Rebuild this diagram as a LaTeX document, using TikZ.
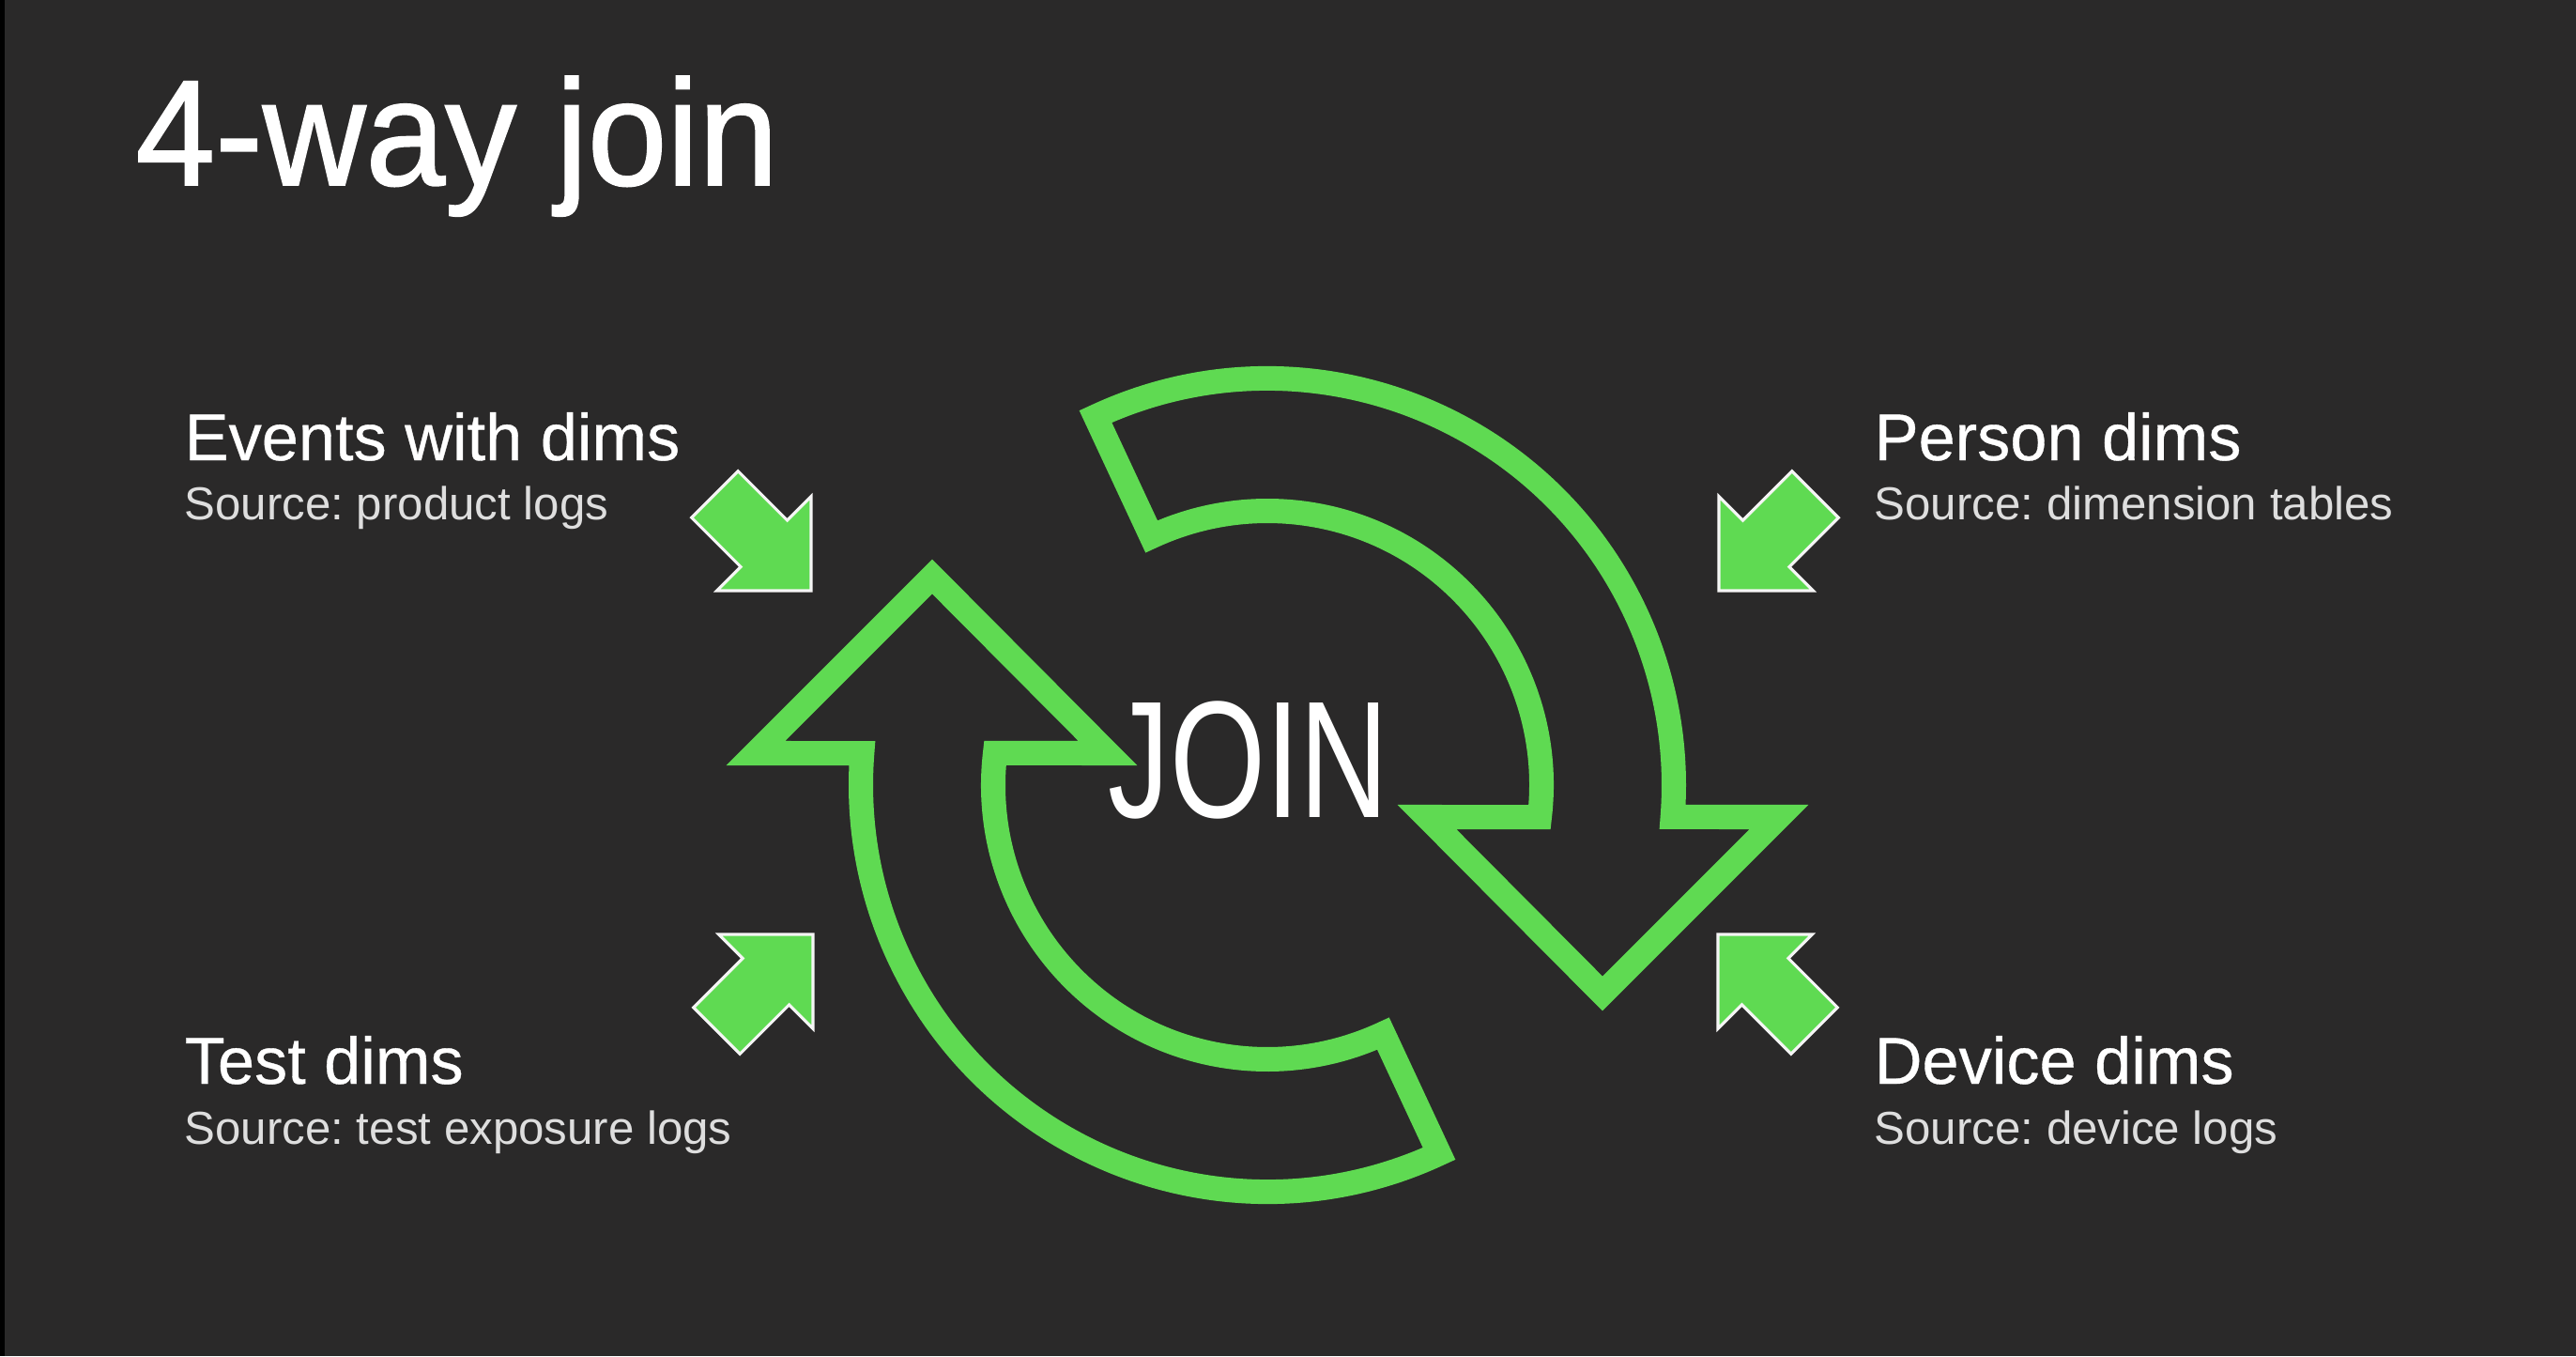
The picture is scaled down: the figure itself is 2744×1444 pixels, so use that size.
\documentclass[tikz,border=0pt]{standalone}
\usepackage{fontspec}
\setmainfont{Liberation Sans}
\newfontfamily\titlefont[FakeStretch=0.95,FakeBold=1.2]{Liberation Sans}
\newfontfamily\headfont[FakeBold=0.5]{Liberation Sans}
\newfontfamily\joinfont[FakeStretch=0.74]{Liberation Sans}
\frenchspacing
\definecolor{bgdark}{RGB}{42,41,41}
\definecolor{joingreen}{RGB}{95,218,82}
\definecolor{srcgray}{RGB}{222,222,222}
\tikzset{
  bigarrow/.style={draw=joingreen,line width=7.4pt,line join=miter},
  inarrow/.style={fill=joingreen,draw=white!92!gray,line width=0.9pt,line join=miter},
  dimhead/.style={anchor=base west,inner sep=0pt,text=white,font=\headfont\fontsize{20}{24}\selectfont},
  dimsrc/.style={anchor=base west,inner sep=0pt,text=srcgray,font=\fontsize{14}{17}\selectfont}
}
\begin{document}
\begin{tikzpicture}[x=0.01cm,y=0.01cm]
\fill[bgdark] (0,0) rectangle (2744,1444);
\fill[black] (0,0) rectangle (5,1444);
\node[anchor=base west,inner sep=0pt,text=white,font=\titlefont\fontsize{45.5}{50}\selectfont] (title) at (144,1247) {4-way join};
% the two curved arrows round the centre
\coordinate (ctr) at (1350,608);
\foreach \a in {0,180}
  \draw[bigarrow,shift={(ctr)},rotate=\a] (115:433) arc[start angle=115,end angle=-4.5,radius=433]
    -- (545,-34) -- (357,-222) -- (170,-34) -- (-6.7:292) arc[start angle=-6.7,end angle=115,radius=292] -- cycle;
\node[anchor=base,inner sep=0pt,text=white,font=\joinfont\fontsize{50.4}{55}\selectfont] (join) at (1330,574) {JOIN};
% small arrows pointing in
\foreach \x/\y/\a in {864/815/-45,1831/815/-135,866/449/45,1830/449/135}
  \draw[inarrow,shift={(\x,\y)},rotate=\a] (0,0) -- (-71,71) -- (-71,35) -- (-145,35) -- (-145,-35) -- (-71,-35) -- (-71,-71) -- cycle;
\node[dimhead] (evhead) at (196,954) {Events with dims};
\node[dimsrc] (evsrc) at (196,890) {Source: product logs};
\node[dimhead] (pshead) at (1996,954) {Person dims};
\node[dimsrc] (pssrc) at (1996,890) {Source: dimension tables};
\node[dimhead] (tshead) at (196,290) {Test dims};
\node[dimsrc] (tssrc) at (196,226) {Source: test exposure logs};
\node[dimhead] (dvhead) at (1996,290) {Device dims};
\node[dimsrc] (dvsrc) at (1996,226) {Source: device logs};
\end{tikzpicture}
\end{document}
